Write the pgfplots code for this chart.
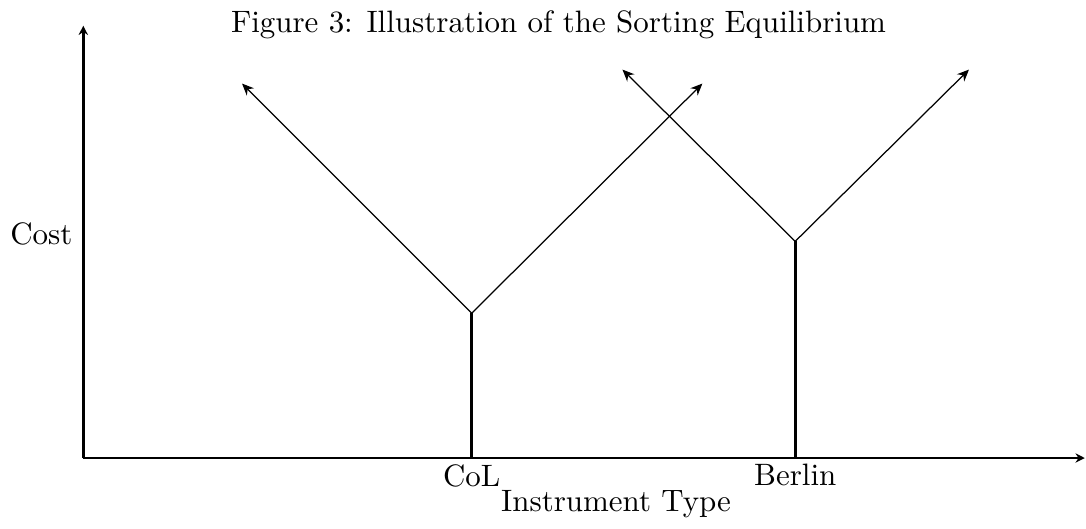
\documentclass[border=0pt]{standalone}
\usepackage{pgfplots}
\pgfplotsset{compat=1.18}
\usetikzlibrary{arrows.meta}
\begin{document}
\begin{tikzpicture}
\begin{axis}[
  x=0.3226pt, y=0.3226pt,
  xmin=83, xmax=1086, ymin=0, ymax=433,
  axis lines=left,
  axis line style={line width=0.8pt, -{Stealth[length=3pt,width=3pt]}},
  xtick={472,796}, xticklabels={CoL,Berlin},
  ytick=\empty,
  major tick length=0pt,
  xticklabel style={yshift=1.5pt},
  clip=false,
  xlabel={Instrument Type},
  xlabel style={at={(axis description cs:0.532,0)}, anchor=north, yshift=-7pt},
  ylabel={Cost},
  ylabel style={rotate=-90, at={(axis cs:83,224)}, anchor=east, xshift=0pt},
  title={Figure 3: Illustration of the Sorting Equilibrium},
  title style={at={(axis cs:559,433)}, anchor=north, yshift=2.5pt},
]
\addplot[line width=0.9pt] coordinates {(472,0) (472,145)};
\addplot[line width=0.4pt, -{Stealth[length=3.8pt,width=3.3pt]}] coordinates {(472,145) (242,375)};
\addplot[line width=0.4pt, -{Stealth[length=3.8pt,width=3.3pt]}] coordinates {(472,145) (703,375)};
\addplot[line width=1.1pt] coordinates {(796,0) (796,217)};
\addplot[line width=0.4pt, -{Stealth[length=3.8pt,width=3.3pt]}] coordinates {(796,217) (623,389)};
\addplot[line width=0.4pt, -{Stealth[length=3.8pt,width=3.3pt]}] coordinates {(796,217) (970,389)};
\end{axis}
\end{tikzpicture}
\end{document}
